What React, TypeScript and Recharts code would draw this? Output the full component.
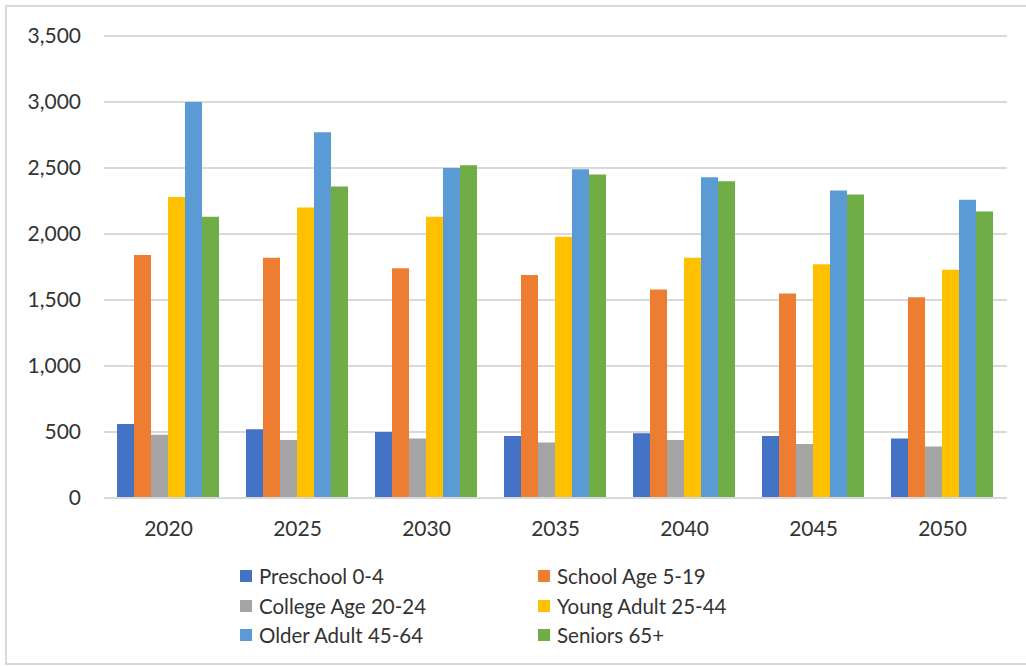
import React from "react";
import { BarChart, Bar, XAxis, YAxis, CartesianGrid, Legend } from "recharts";

// Population projections by age group, in thousands
const years = ["2020", "2025", "2030", "2035", "2040", "2045", "2050"];
const preschool = [560, 520, 500, 470, 490, 470, 450];
const schoolAge = [1840, 1820, 1740, 1690, 1580, 1550, 1520];
const collegeAge = [480, 440, 450, 420, 440, 410, 390];
const youngAdult = [2280, 2200, 2130, 1980, 1820, 1770, 1730];
const olderAdult = [3000, 2770, 2500, 2490, 2430, 2330, 2260];
const seniors = [2130, 2360, 2520, 2450, 2400, 2300, 2170];
const yTicks = [0, 500, 1000, 1500, 2000, 2500, 3000, 3500];

const series = [
  { key: "preschool", name: "Preschool 0-4", color: "#4472C4", values: preschool },
  { key: "schoolAge", name: "School Age 5-19", color: "#ED7D31", values: schoolAge },
  { key: "collegeAge", name: "College Age 20-24", color: "#A5A5A5", values: collegeAge },
  { key: "youngAdult", name: "Young Adult 25-44", color: "#FFC000", values: youngAdult },
  { key: "olderAdult", name: "Older Adult 45-64", color: "#5B9BD5", values: olderAdult },
  { key: "seniors", name: "Seniors 65+", color: "#70AD47", values: seniors },
];

const data = years.map((year, i) => {
  const row: Record<string, string | number> = { year };
  series.forEach((s) => {
    row[s.key] = s.values[i];
  });
  return row;
});

const FONT = "Lato, 'Open Sans', sans-serif";
const TEXT = "#333333";
const GRID = "#d9d9d9";

const fmt = (v: number) => v.toLocaleString("en-US");

// Two-column legend laid out like a spreadsheet chart legend
const renderLegend = () => {
  const colLeft = [240, 538];
  return (
    <div style={{ position: "relative", width: 1026, height: 129, fontFamily: FONT }}>
      {series.map((s, i) => {
        const col = i % 2;
        const row = Math.floor(i / 2);
        const cy = 38 + row * 29.5;
        return (
          <div
            key={s.key}
            style={{
              position: "absolute",
              left: colLeft[col],
              top: cy - 15,
              height: 30,
              display: "flex",
              alignItems: "center",
              whiteSpace: "nowrap",
            }}
          >
            <span
              style={{
                display: "inline-block",
                width: 12,
                height: 12,
                background: s.color,
                marginRight: 7,
              }}
            />
            <span style={{ fontSize: 20.5, color: TEXT, lineHeight: "30px" }}>{s.name}</span>
          </div>
        );
      })}
    </div>
  );
};

export default function App() {
  return (
    <div
      style={{
        position: "absolute",
        left: 0,
        top: 0,
        width: 1026,
        height: 667,
        background: "#ffffff",
        overflow: "hidden",
      }}
    >
      <div
        style={{
          position: "absolute",
          left: 5,
          top: 5,
          width: 1040,
          height: 660,
          border: `2px solid ${GRID}`,
          boxSizing: "border-box",
        }}
      />
      <div style={{ position: "absolute", left: 0, top: 0 }}>
        <BarChart
          width={1026}
          height={667}
          data={data}
          margin={{ top: 36, right: 19, bottom: 0, left: 0 }}
          barCategoryGap={13}
          barGap={0}
        >
          <CartesianGrid vertical={false} stroke={GRID} strokeWidth={2} />
          <XAxis
            dataKey="year"
            height={40}
            axisLine={{ stroke: GRID, strokeWidth: 2 }}
            tickLine={false}
            tickSize={0}
            tickMargin={23}
            tick={{ fill: TEXT, fontSize: 21, fontFamily: FONT }}
          />
          <YAxis
            width={104}
            domain={[0, 3500]}
            ticks={yTicks}
            axisLine={false}
            tickLine={false}
            tickSize={0}
            tickMargin={23}
            tickFormatter={fmt}
            tick={{ fill: TEXT, fontSize: 21, fontFamily: FONT }}
          />
          {series.map((s) => (
            <Bar
              key={s.key}
              dataKey={s.key}
              name={s.name}
              fill={s.color}
              isAnimationActive={false}
            />
          ))}
          <Legend
            verticalAlign="bottom"
            content={renderLegend}
            wrapperStyle={{ left: 0, width: 1026, height: 129 }}
          />
        </BarChart>
      </div>
    </div>
  );
}
